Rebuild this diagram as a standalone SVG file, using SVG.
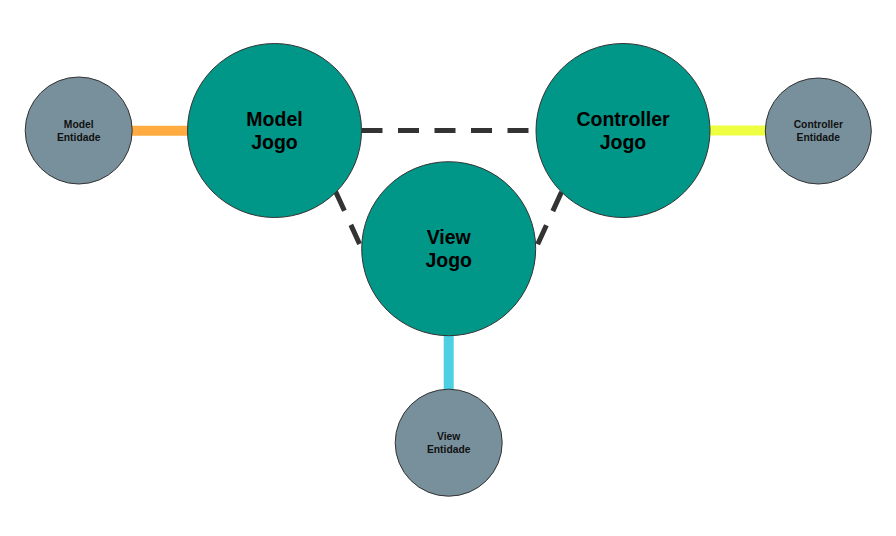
<svg xmlns="http://www.w3.org/2000/svg" width="896" height="536" viewBox="0 0 896 536">
<style>
.main{fill:#009688;stroke:#333;stroke-width:1}
.ent{fill:#78909C;stroke:#333;stroke-width:1}
.dash{stroke:#333;stroke-width:5;stroke-dasharray:21 15.5;fill:none}
.solid{stroke-width:10;fill:none}
.t1{font-family:"Liberation Sans",Arial,sans-serif;font-weight:bold;font-size:19.5px;fill:#000;text-anchor:middle}
.t2{font-family:"Liberation Sans",Arial,sans-serif;font-weight:bold;font-size:10.3px;fill:#111;text-anchor:middle}
</style>
<rect width="896" height="536" fill="#fff"/>
<g id="connectors">
<line class="dash" x1="361.5" y1="130.5" x2="536" y2="130.5"/>
<line class="dash" x1="335.7" y1="191.7" x2="361.7" y2="248.7"/>
<line class="dash" x1="561.5" y1="192" x2="535.7" y2="248.7"/>
<line class="solid" stroke="#FFAB40" x1="132" y1="130.7" x2="188" y2="130.7"/>
<line class="solid" stroke="#EEFF41" x1="709" y1="130.5" x2="766" y2="130.5"/>
<line class="solid" stroke="#4DD0E1" x1="448.7" y1="335" x2="448.7" y2="390"/>
</g>
<g id="model-jogo">
<circle class="main" cx="274.5" cy="130.5" r="87"/>
<text class="t1" x="274.5" y="126">Model</text>
<text class="t1" x="274.5" y="148.5">Jogo</text>
</g>
<g id="controller-jogo">
<circle class="main" cx="623" cy="130.5" r="87"/>
<text class="t1" x="623" y="126">Controller</text>
<text class="t1" x="623" y="148.5">Jogo</text>
</g>
<g id="view-jogo">
<circle class="main" cx="448.7" cy="248.7" r="87"/>
<text class="t1" x="448.7" y="244">View</text>
<text class="t1" x="448.7" y="266.5">Jogo</text>
</g>
<g id="model-entidade">
<circle class="ent" cx="78.7" cy="130.5" r="53.5"/>
<text class="t2" x="78.7" y="127.7">Model</text>
<text class="t2" x="78.7" y="141">Entidade</text>
</g>
<g id="controller-entidade">
<circle class="ent" cx="818.3" cy="131" r="53"/>
<text class="t2" x="818.3" y="127.7">Controller</text>
<text class="t2" x="818.3" y="141">Entidade</text>
</g>
<g id="view-entidade">
<circle class="ent" cx="448.7" cy="442.7" r="53.5"/>
<text class="t2" x="448.7" y="440">View</text>
<text class="t2" x="448.7" y="453">Entidade</text>
</g>
</svg>
